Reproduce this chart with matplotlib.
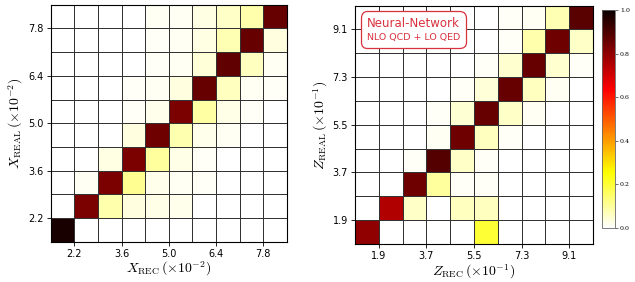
import numpy as np
import matplotlib
matplotlib.use("Agg")
import matplotlib.pyplot as plt
from matplotlib.offsetbox import AnchoredOffsetbox, TextArea, VPacker

plt.rcParams["mathtext.fontset"] = "cm"

# bin edges (in units of the axis label)
x_edges = [1.5, 2.2, 2.9, 3.6, 4.3, 5.0, 5.7, 6.4, 7.1, 7.8, 8.5]
x_ticks = [2.2, 3.6, 5.0, 6.4, 7.8]
z_edges = [1.0, 1.9, 2.8, 3.7, 4.6, 5.5, 6.4, 7.3, 8.2, 9.1, 10.0]
z_ticks = [1.9, 3.7, 5.5, 7.3, 9.1]

# migration matrices, row = REAL bin (bottom -> top), col = REC bin
x_matrix = [
    [0.98, 0, 0, 0, 0, 0, 0, 0, 0, 0],
    [0, 0.83, 0.085, 0.035, 0.025, 0.02, 0, 0, 0, 0],
    [0, 0.015, 0.83, 0.11, 0.02, 0.015, 0.01, 0, 0, 0],
    [0, 0, 0.03, 0.83, 0.10, 0.025, 0.01, 0, 0, 0],
    [0, 0, 0, 0.035, 0.85, 0.08, 0.02, 0.015, 0, 0],
    [0, 0, 0, 0.01, 0.02, 0.83, 0.09, 0.025, 0.01, 0],
    [0, 0, 0, 0.01, 0.015, 0.035, 0.86, 0.065, 0.015, 0.01],
    [0, 0, 0, 0, 0.01, 0.015, 0.04, 0.87, 0.065, 0.015],
    [0, 0, 0, 0, 0.01, 0.015, 0.03, 0.075, 0.86, 0.035],
    [0, 0, 0, 0, 0.015, 0.015, 0.03, 0.055, 0.085, 0.86],
]
z_matrix = [
    [0.80, 0, 0, 0, 0, 0.20, 0, 0, 0, 0],
    [0, 0.75, 0.055, 0, 0.065, 0.065, 0, 0, 0, 0],
    [0, 0, 0.85, 0.10, 0.01, 0.01, 0, 0, 0, 0],
    [0, 0, 0.01, 0.89, 0.055, 0.01, 0, 0, 0, 0],
    [0, 0, 0, 0.015, 0.85, 0.065, 0.01, 0, 0, 0],
    [0, 0, 0, 0.01, 0.045, 0.86, 0.055, 0.015, 0, 0],
    [0, 0, 0, 0, 0.01, 0.04, 0.86, 0.065, 0.015, 0],
    [0, 0, 0, 0, 0, 0.01, 0.05, 0.86, 0.05, 0.01],
    [0, 0, 0, 0, 0, 0, 0.01, 0.085, 0.85, 0.055],
    [0, 0, 0, 0, 0, 0, 0.01, 0.015, 0.075, 0.88],
]

fig = plt.figure(figsize=(6.35, 2.82), dpi=100)
ax1 = fig.add_axes([0.0798, 0.143, 0.372, 0.840])
ax2 = fig.add_axes([0.559, 0.135, 0.375, 0.845])
cax = fig.add_axes([0.9476, 0.1915, 0.021, 0.773])

def draw(ax, edges, ticks, mat, xlab, ylab):
    m = ax.pcolormesh(edges, edges, np.array(mat), cmap="hot_r", vmin=0, vmax=1,
                      edgecolors="0.2", linewidth=0.7)
    ax.set_xlim(edges[0], edges[-1])
    ax.set_ylim(edges[0], edges[-1])
    ax.set_xticks(ticks)
    ax.set_yticks(ticks)
    ax.set_xticklabels([f"{t:.1f}" for t in ticks])
    ax.set_yticklabels([f"{t:.1f}" for t in ticks])
    ax.tick_params(labelsize=7, length=3, width=0.6, pad=2)
    ax.set_xlabel(xlab, fontsize=10, labelpad=1)
    ax.set_ylabel(ylab, fontsize=10, labelpad=2)
    for s in ax.spines.values():
        s.set_linewidth(0.8)
    return m

draw(ax1, x_edges, x_ticks, x_matrix,
     r"$X_{\rm REC}\,(\times10^{-2})$", r"$X_{\rm REAL}\,(\times10^{-2})$")
mesh = draw(ax2, z_edges, z_ticks, z_matrix,
            r"$Z_{\rm REC}\,(\times10^{-1})$", r"$Z_{\rm REAL}\,(\times10^{-1})$")

# label box
red = "#d9323f"
line1 = TextArea("Neural-Network", textprops=dict(color=red, fontsize=8.5))
line2 = TextArea("NLO QCD + LO QED", textprops=dict(color=red, fontsize=6.8))
pack = VPacker(children=[line1, line2], align="left", pad=0, sep=2)
box = AnchoredOffsetbox(loc="upper left", child=pack, pad=0.3, borderpad=0.55,
                        frameon=True, bbox_to_anchor=(0.0, 1.0),
                        bbox_transform=ax2.transAxes)
box.patch.set_boxstyle("round,pad=0.15,rounding_size=0.5")
box.patch.set_edgecolor(red)
box.patch.set_facecolor("white")
box.patch.set_linewidth(0.9)
box.set_zorder(5)
ax2.add_artist(box)

cb = fig.colorbar(mesh, cax=cax, ticks=[0, 0.2, 0.4, 0.6, 0.8, 1.0])
cb.ax.tick_params(labelsize=4.5, length=2, width=0.4, pad=1.5)
for lab in cb.ax.get_yticklabels():
    lab.set_family("DejaVu Serif")
cb.outline.set_linewidth(0.6)
cb.outline.set_edgecolor("0.4")

fig.savefig("out.png", dpi=100)
